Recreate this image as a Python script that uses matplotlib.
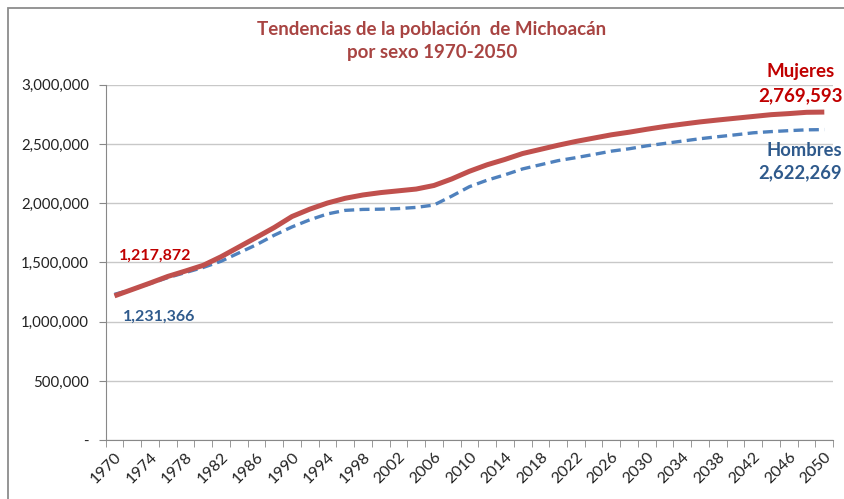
import numpy as np
import matplotlib
matplotlib.use("Agg")
import matplotlib.pyplot as plt
from matplotlib.patches import Rectangle
from matplotlib.ticker import FuncFormatter

plt.rcParams['font.family'] = ['Lato', 'DejaVu Sans']

# data every 2 years (millions)
years = list(range(1970, 2051, 2))
mujeres = [1.218, 1.272, 1.326, 1.382, 1.428, 1.476, 1.548, 1.630, 1.712, 1.795,
           1.888, 1.950, 2.002, 2.042, 2.070, 2.090, 2.105, 2.120, 2.150, 2.205,
           2.270, 2.325, 2.370, 2.420, 2.455, 2.490, 2.522, 2.550, 2.578, 2.600,
           2.625, 2.648, 2.668, 2.687, 2.703, 2.718, 2.733, 2.748, 2.757, 2.768,
           2.770]
hombres = [1.231, 1.272, 1.322, 1.372, 1.415, 1.458, 1.510, 1.580, 1.650, 1.730,
           1.800, 1.860, 1.910, 1.940, 1.948, 1.950, 1.955, 1.965, 1.985, 2.060,
           2.140, 2.195, 2.240, 2.290, 2.325, 2.360, 2.385, 2.412, 2.440, 2.460,
           2.485, 2.505, 2.525, 2.545, 2.562, 2.578, 2.595, 2.605, 2.613, 2.620,
           2.622]
label_years = list(range(1970, 2051, 4))

mujeres = np.array(mujeres) * 1e6
hombres = np.array(hombres) * 1e6

fig = plt.figure(figsize=(8.45, 4.99), dpi=100)
ax = fig.add_axes([0.125, 0.118, 0.861, 0.712])

ax.plot(years, mujeres, color="#C0504D", lw=3.6, solid_capstyle="butt", zorder=3)
ax.plot(years, hombres, color="#4F81BD", lw=2.4, ls=(0, (3, 1.6)), zorder=2)

ax.set_xlim(1969, 2051)
ax.set_ylim(0, 3000000)
ax.set_yticks(np.arange(0, 3000001, 500000))
ax.yaxis.set_major_formatter(FuncFormatter(lambda v, p: "-" if v == 0 else f"{v:,.0f}"))
ax.grid(axis="y", color="#C8C8C8", lw=1)
ax.set_axisbelow(True)

ax.set_xticks(label_years)
ax.set_xticks(range(1969, 2052, 2), minor=True)
ax.set_xticklabels([str(y) for y in label_years], rotation=45, ha="right",
                   va="top", rotation_mode="anchor")
ax.tick_params(axis="x", which="major", length=0, pad=7, labelsize=11.5, labelcolor="#222222")
ax.tick_params(axis="x", which="minor", length=5, color="#888888", direction="out")
ax.tick_params(axis="y", length=5, color="#888888", labelsize=10.8, labelcolor="#222222", pad=7)

for s in ["top", "right"]:
    ax.spines[s].set_visible(False)
for s in ["left", "bottom"]:
    ax.spines[s].set_color("#888888")

fig.text(0.511, 0.918, "Tendencias de la población  de Michoacán\npor sexo 1970-2050",
         ha="center", va="center", fontsize=13.5, fontweight="bold", color="#A84442",
         linespacing=1.45)

red = "#C00000"
blue = "#2F5A8C"
ax.text(1970.5, 1.5e6 + 55000, "1,217,872", color=red, fontsize=11.5, fontweight="bold", va="center")
ax.text(1970.9, 1.0e6 + 40000, "1,231,366", color=blue, fontsize=11.5, fontweight="bold", va="center")
fig.text(835 / 845, 1 - 72 / 499, "Mujeres", color=red, fontsize=13.5, fontweight="bold",
         ha="right", va="center")
fig.text(843 / 845, 1 - 96 / 499, "2,769,593", color=red, fontsize=13.5, fontweight="bold",
         ha="right", va="center")
fig.text(842 / 845, 1 - 150 / 499, "Hombres", color=blue, fontsize=13.2, fontweight="bold",
         ha="right", va="center")
fig.text(842 / 845, 1 - 173 / 499, "2,622,269", color=blue, fontsize=13.2, fontweight="bold",
         ha="right", va="center")

fig.add_artist(Rectangle((8 / 845, -0.1), 2, 1 - 8 / 499 + 0.1, transform=fig.transFigure,
                         fill=False, ec="#8C8C8C", lw=1.3))

fig.savefig("out.png", dpi=100)
